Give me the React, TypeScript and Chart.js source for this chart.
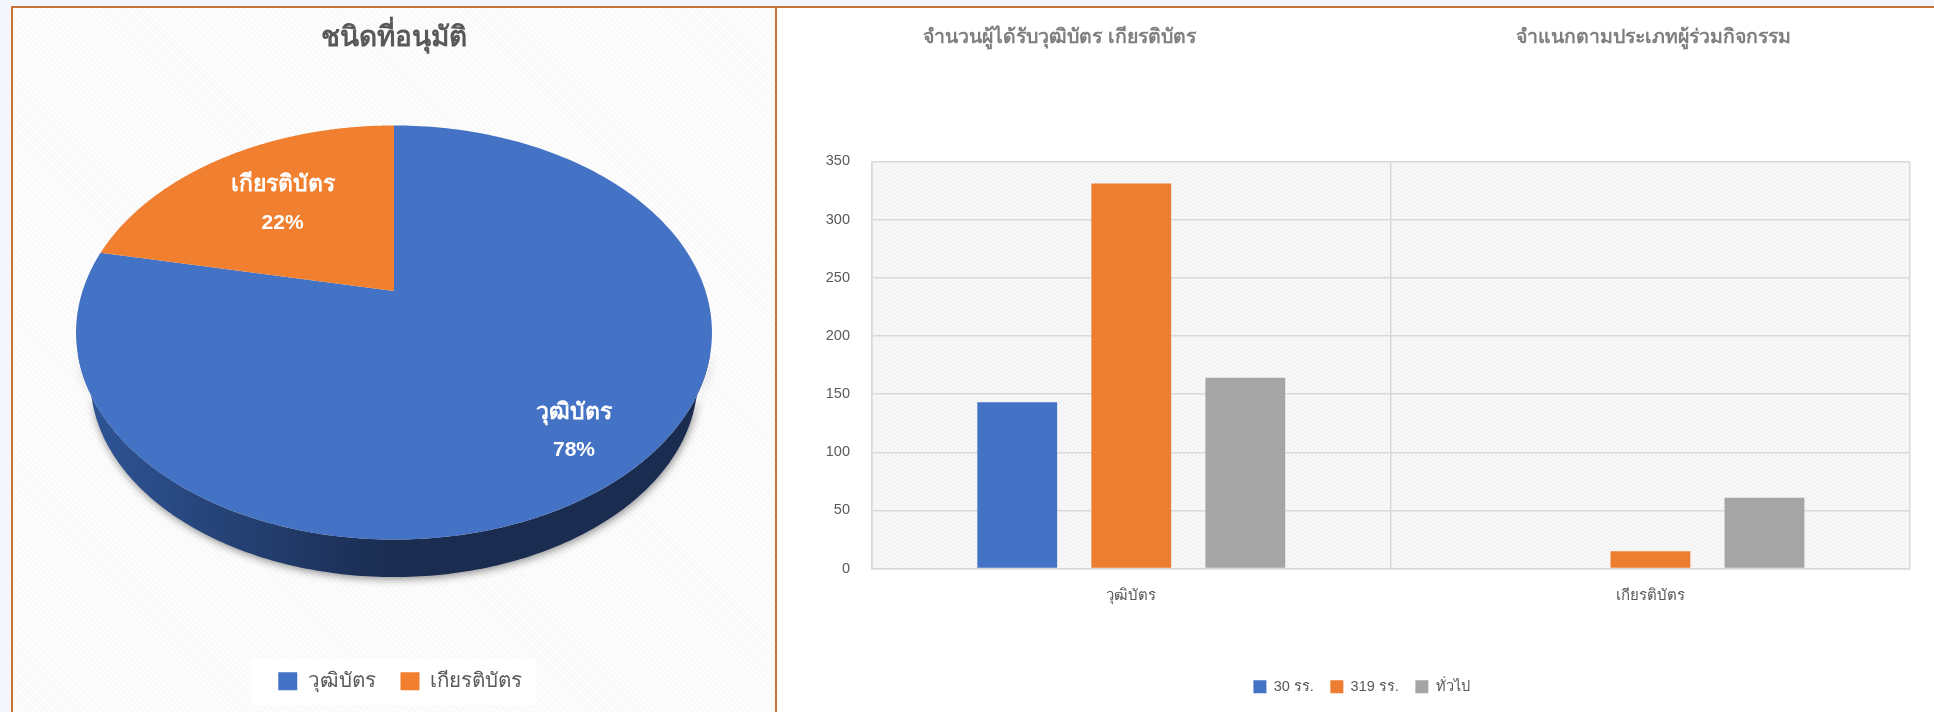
import React, { useEffect, useRef } from "react";
import { Chart, registerables } from "chart.js";

Chart.register(...registerables);

const FONT = '"Liberation Sans", Arial, "Noto Sans", sans-serif';
const GRAY = "#595959";

const pieTitle = "ชนิดที่อนุมัติ";
const pieLabels = ["วุฒิบัตร", "เกียรติบัตร"];
const pieValues = [78.2, 21.8];
const pieColors = ["#4472c4", "#f07f30"];
const pieLabelRadial = [0.8, 0.62];

const barTitles = ["จำนวนผู้ได้รับวุฒิบัตร เกียรติบัตร", "จำแนกตามประเภทผู้ร่วมกิจกรรม"];
const barCategories = ["วุฒิบัตร", "เกียรติบัตร"];
const seriesNames = ["30 รร.", "319 รร.", "ทั่วไป"];
const series30 = [143, null];
const series319 = [331, 15];
const seriesGeneral = [164, 61];
const barColors = ["#4472c4", "#ed7d31", "#a5a5a5"];

const legendPlace = {
  id: "legendPlace",
  afterLayout(chart: any, _a: any, o: any) {
    const l = chart.legend;
    const h = l.height;
    l.top = o.top;
    l.bottom = o.top + h;
    l.left += o.dx;
    l.right += o.dx;
    if (o.area) {
      const a = chart.chartArea;
      a.top = o.area[0];
      a.bottom = o.area[1];
      a.height = a.bottom - a.top;
    }
  },
};

const K = 0.2005;
const FLAT = 0.638;
const WALL_SCALE = 0.955;
const WALL_DROP = 48.7;

function project(arc: any, a: number, f = 1, s = 1, drop = 0) {
  const w = 1 - K * f * Math.sin(a);
  return {
    x: arc.x + (s * f * arc.outerRadius * Math.cos(a)) / w,
    y: arc.y + drop + (s * f * arc.outerRadius * FLAT * Math.sin(a)) / w,
  };
}

const perspectivePie = {
  id: "perspectivePie",
  beforeDraw(chart: any) {
    const ctx = chart.ctx;
    ctx.save();
    ctx.fillStyle = "rgba(255,255,255,0.92)";
    ctx.fillRect(239, 650, 284, 47);
    ctx.restore();
    ctx.save();
    ctx.fillStyle = GRAY;
    ctx.font = `bold 28px ${FONT}`;
    ctx.textAlign = "center";
    ctx.textBaseline = "middle";
    ctx.fillText(pieTitle, 381, 30);
    ctx.restore();
  },
  beforeDatasetsDraw(chart: any) {
    const ctx = chart.ctx;
    const arcs = chart.getDatasetMeta(0).data;
    const values = chart.data.datasets[0].data as number[];
    const total = values.reduce((p: number, v: number) => p + v, 0);
    arcs.forEach((arc: any) => {
      const lo = Math.max(arc.startAngle, 0.3);
      const hi = Math.min(arc.endAngle, Math.PI - 0.3);
      if (hi <= lo) return;
      const n = 180;
      ctx.save();
      const g = ctx.createLinearGradient(arc.x - arc.outerRadius, 0, arc.x + arc.outerRadius, 0);
      g.addColorStop(0, "#2f5597");
      g.addColorStop(0.5, "#1a2c50");
      g.addColorStop(1, "#1a2c50");
      ctx.fillStyle = g;
      ctx.shadowColor = "rgba(0,0,0,0.45)";
      ctx.shadowBlur = 9;
      ctx.shadowOffsetX = 1;
      ctx.shadowOffsetY = 2;
      ctx.beginPath();
      for (let i = 0; i <= n; i++) {
        const p = project(arc, lo + ((hi - lo) * i) / n, 1, WALL_SCALE, WALL_DROP);
        i ? ctx.lineTo(p.x, p.y) : ctx.moveTo(p.x, p.y);
      }
      for (let i = n; i >= 0; i--) {
        const p = project(arc, lo + ((hi - lo) * i) / n);
        ctx.lineTo(p.x, p.y);
      }
      ctx.closePath();
      ctx.fill();
      ctx.restore();
    });
    arcs.forEach((arc: any) => {
      const n = 240;
      ctx.save();
      ctx.fillStyle = arc.options.backgroundColor;
      ctx.beginPath();
      ctx.moveTo(arc.x, arc.y);
      for (let i = 0; i <= n; i++) {
        const p = project(arc, arc.startAngle + ((arc.endAngle - arc.startAngle) * i) / n);
        ctx.lineTo(p.x, p.y);
      }
      ctx.closePath();
      ctx.fill();
      ctx.restore();
    });
    arcs.forEach((arc: any, i: number) => {
      const mid = (arc.startAngle + arc.endAngle) / 2;
      const p = project(arc, mid, pieLabelRadial[i]);
      ctx.save();
      ctx.fillStyle = "#ffffff";
      ctx.textAlign = "center";
      ctx.textBaseline = "middle";
      ctx.font = `bold 23px ${FONT}`;
      ctx.fillText(chart.data.labels[i], p.x, p.y - 19);
      ctx.font = `bold 21px ${FONT}`;
      ctx.fillText(`${Math.round((values[i] / total) * 100)}%`, p.x, p.y + 19);
      ctx.restore();
    });
    return false;
  },
};

function hatch(ctx: CanvasRenderingContext2D, fg: string, bg: string) {
  const t = document.createElement("canvas");
  t.width = 4;
  t.height = 4;
  const c = t.getContext("2d")!;
  c.fillStyle = bg;
  c.fillRect(0, 0, 4, 4);
  c.strokeStyle = fg;
  c.lineWidth = 1;
  c.beginPath();
  c.moveTo(-1, -1);
  c.lineTo(5, 5);
  c.moveTo(-1, 3);
  c.lineTo(1, 5);
  c.moveTo(3, -1);
  c.lineTo(5, 1);
  c.stroke();
  return ctx.createPattern(t, "repeat")!;
}

const barDecor = {
  id: "barDecor",
  beforeDraw(chart: any) {
    const ctx = chart.ctx;
    const a = chart.chartArea;
    ctx.save();
    ctx.fillStyle = hatch(ctx, "#ebebeb", "#f9f9f9");
    ctx.fillRect(a.left, a.top, a.right - a.left, a.bottom - a.top);
    ctx.restore();
    ctx.save();
    ctx.fillStyle = "#7f7f7f";
    ctx.font = `bold 19.5px ${FONT}`;
    ctx.textAlign = "center";
    ctx.textBaseline = "middle";
    ctx.fillText(barTitles[0], 282.5, 29.5);
    ctx.fillText(barTitles[1], 876.5, 29.5);
    ctx.restore();
  },
};

export default function App() {
  const pieRef = useRef<HTMLCanvasElement>(null);
  const barRef = useRef<HTMLCanvasElement>(null);

  useEffect(() => {
    const pie = new Chart(pieRef.current!, {
      type: "pie",
      data: {
        labels: pieLabels,
        datasets: [{ data: pieValues, backgroundColor: pieColors, borderWidth: 0, radius: 311.5 }],
      },
      plugins: [legendPlace, perspectivePie],
      options: {
        animation: false,
        responsive: false,
        devicePixelRatio: 1,
        layout: { padding: 0 },
        plugins: {
          tooltip: { enabled: false },
          legend: {
            position: "bottom",
            labels: {
              color: GRAY,
              boxWidth: 19,
              boxHeight: 18,
              padding: 25,
              font: { family: FONT, size: 20.5 },
            },
          },
          legendPlace: { top: 638, dx: 6, area: [0, 566] },
        },
      } as any,
    } as any);

    const mk = (values: any[], i: number) => ({
      label: seriesNames[i],
      data: values,
      backgroundColor: barColors[i],
      borderWidth: 0,
      categoryPercentage: 0.659,
      barPercentage: 0.7,
    });

    const bar = new Chart(barRef.current!, {
      type: "bar",
      data: {
        labels: barCategories,
        datasets: [mk(series30, 0), mk(series319, 1), mk(seriesGeneral, 2)],
      },
      plugins: [legendPlace, barDecor],
      options: {
        animation: false,
        responsive: false,
        devicePixelRatio: 1,
        layout: { padding: { top: 153.4, right: 24, left: 0, bottom: 0 } },
        scales: {
          x: {
            afterFit: (s: any) => {
              s.height = 143.4 - s.chart.legend.height;
            },
            grid: { color: "#d9d9d9", lineWidth: 1.5, drawTicks: false },
            border: { color: "#d9d9d9", width: 1.5 },
            ticks: { color: GRAY, padding: 18, font: { family: FONT, size: 15 } },
          },
          y: {
            min: 0,
            max: 350,
            afterFit: (s: any) => {
              s.width = 94.7;
            },
            grid: { color: "#d9d9d9", lineWidth: 1.5, drawTicks: false },
            border: { color: "#d9d9d9", width: 1.5 },
            ticks: { stepSize: 50, color: GRAY, padding: 21.7, font: { family: FONT, size: 14.5 } },
          },
        },
        plugins: {
          tooltip: { enabled: false },
          legend: {
            position: "bottom",
            labels: {
              color: GRAY,
              boxWidth: 13,
              boxHeight: 13,
              padding: 16.5,
              font: { family: FONT, size: 14.5 },
            },
          },
          legendPlace: { top: 655, dx: 18, area: null },
        },
      } as any,
    } as any);

    return () => {
      pie.destroy();
      bar.destroy();
    };
  }, []);

  return (
    <div style={{ position: "fixed", left: 0, top: 0, width: 1934, height: 712, overflow: "hidden", background: "#f3f6fc" }}>
      <div
        style={{
          position: "absolute",
          left: 11,
          top: 6,
          width: 1923,
          height: 706,
          boxSizing: "border-box",
          borderTop: "2px solid #c8733a",
          background: "#ffffff",
        }}
      />
      <div
        style={{
          position: "absolute",
          left: 11,
          top: 6,
          width: 766,
          height: 706,
          boxSizing: "border-box",
          borderTop: "2px solid #c8733a",
          borderLeft: "2px solid #c8733a",
          borderRight: "2px solid #c8733a",
          background: "repeating-linear-gradient(45deg, #f8f8f8 0px, #f8f8f8 1.5px, #fdfdfd 1.5px, #fdfdfd 4px)",
        }}
      />
      <canvas ref={pieRef} width={762} height={704} style={{ position: "absolute", left: 13, top: 8, display: "block" }} />
      <canvas ref={barRef} width={1157} height={704} style={{ position: "absolute", left: 777, top: 8, display: "block" }} />
    </div>
  );
}
